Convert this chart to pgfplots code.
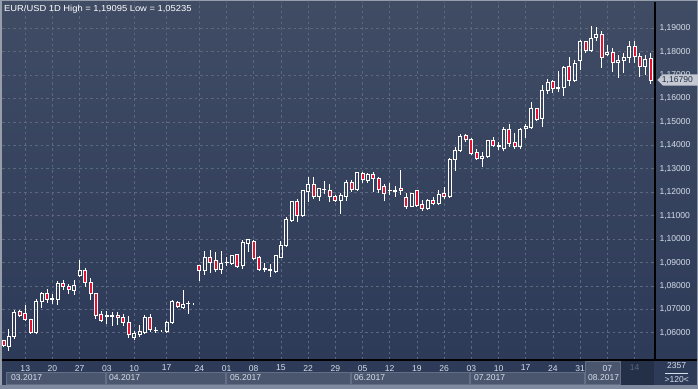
\documentclass[border=0pt]{standalone}
\usepackage{pgfplots}
\pgfplotsset{compat=1.18}
\usepackage{pgfplotstable}
\usepackage{fontspec}
\setmainfont{Liberation Sans}
\newfontfamily\titlefont[FakeStretch=1.08]{Liberation Sans}
\definecolor{bgtop}{RGB}{64,76,100}
\definecolor{bgbot}{RGB}{45,58,88}
\definecolor{gridc}{RGB}{92,104,130}
\definecolor{candred}{RGB}{226,18,48}
\definecolor{lbl}{RGB}{214,222,234}
\definecolor{framec}{RGB}{150,158,172}
\definecolor{framebot}{RGB}{128,138,158}
\definecolor{monthbox}{RGB}{74,86,110}
\definecolor{monthborder}{RGB}{98,110,134}
\definecolor{darkbox}{RGB}{36,48,72}
\definecolor{dimc}{RGB}{90,102,128}
\definecolor{markc}{RGB}{196,201,210}
\definecolor{marktext}{RGB}{36,48,74}

\pgfplotstableread{
i o h l c
0 1.05686 1.05714 1.05429 1.05457
1 1.05429 1.06186 1.05235 1.05857
2 1.05829 1.06957 1.05757 1.06857
3 1.06900 1.06957 1.06671 1.06729
4 1.06814 1.07171 1.06529 1.06557
5 1.06571 1.06600 1.05986 1.06029
6 1.06029 1.07429 1.06000 1.07329
7 1.07329 1.07743 1.07071 1.07686
8 1.07686 1.07857 1.07257 1.07429
9 1.07443 1.07671 1.07214 1.07471
10 1.07429 1.08214 1.07186 1.08100
11 1.08100 1.08257 1.07814 1.07971
12 1.07986 1.08100 1.07671 1.07857
13 1.07829 1.08243 1.07614 1.08014
14 1.08457 1.09100 1.08386 1.08671
15 1.08671 1.08757 1.07971 1.08143
16 1.08143 1.08329 1.07414 1.07671
17 1.07671 1.07714 1.06571 1.06757
18 1.06786 1.06929 1.06471 1.06543
19 1.06700 1.06929 1.06400 1.06743
20 1.06686 1.06900 1.06286 1.06743
21 1.06729 1.06900 1.06329 1.06643
22 1.06657 1.06786 1.06286 1.06429
23 1.06429 1.06700 1.05786 1.05929
24 1.05800 1.06071 1.05700 1.05957
25 1.05929 1.06329 1.05814 1.06043
26 1.06000 1.06757 1.05957 1.06643
27 1.06671 1.06786 1.06043 1.06129
28 1.06086 1.06257 1.06000 1.06114
29 1.06100 1.06114 1.06086 1.06100
30 1.06071 1.06500 1.06029 1.06429
31 1.06457 1.07400 1.06429 1.07329
32 1.07314 1.07357 1.07071 1.07114
33 1.07100 1.07829 1.07057 1.07214
34 1.07243 1.07357 1.06786 1.07257
35 1.07257 1.07271 1.07243 1.07257
36 1.08859 1.08880 1.08197 1.08662
37 1.08662 1.09507 1.08479 1.09225
38 1.09225 1.09535 1.08549 1.09014
39 1.09070 1.09465 1.08577 1.08690
40 1.08690 1.09493 1.08521 1.08972
41 1.08986 1.09254 1.08859 1.09014
42 1.08972 1.09338 1.08901 1.09310
43 1.09324 1.09352 1.08803 1.08831
44 1.08887 1.09958 1.08718 1.09845
45 1.09817 1.10000 1.09465 1.09986
46 1.09915 1.09958 1.09113 1.09183
47 1.09225 1.09296 1.08648 1.08718
48 1.08732 1.08972 1.08620 1.08704
49 1.08690 1.08930 1.08380 1.08676
50 1.08620 1.09310 1.08549 1.09310
51 1.09225 1.09930 1.09225 1.09732
52 1.09732 1.10944 1.09704 1.10831
53 1.10803 1.11648 1.10775 1.11606
54 1.11592 1.11732 1.10732 1.11000
55 1.11000 1.12099 1.10972 1.12070
56 1.12042 1.12662 1.11606 1.12352
57 1.12352 1.12662 1.11718 1.11817
58 1.11817 1.12155 1.11648 1.12155
59 1.12099 1.12493 1.11930 1.12127
60 1.12092 1.12333 1.11596 1.11809
61 1.11809 1.11879 1.11596 1.11638
62 1.11638 1.11979 1.11071 1.11879
63 1.11837 1.12518 1.11638 1.12418
64 1.12418 1.12518 1.12021 1.12120
65 1.12120 1.12872 1.12064 1.12830
66 1.12801 1.12872 1.12404 1.12546
67 1.12518 1.12830 1.12376 1.12773
68 1.12773 1.12872 1.12021 1.12589
69 1.12589 1.12631 1.11950 1.12120
70 1.12234 1.12348 1.11638 1.11950
71 1.12064 1.12376 1.11879 1.12078
72 1.12050 1.12262 1.11809 1.12092
73 1.12163 1.12943 1.11879 1.12078
74 1.11780 1.11950 1.11284 1.11383
75 1.11411 1.11979 1.11383 1.11950
76 1.12064 1.12092 1.11411 1.11454
77 1.11482 1.11667 1.11213 1.11312
78 1.11312 1.11695 1.11241 1.11667
79 1.11667 1.11780 1.11454 1.11525
80 1.11525 1.12092 1.11454 1.11922
81 1.11950 1.12206 1.11695 1.11809
82 1.11809 1.13482 1.11780 1.13411
83 1.13397 1.13936 1.12915 1.13794
84 1.13766 1.14504 1.13723 1.14390
85 1.14433 1.14504 1.14149 1.14248
86 1.14248 1.14333 1.13582 1.13652
87 1.13681 1.13865 1.13369 1.13440
88 1.13440 1.13723 1.13085 1.13511
89 1.13511 1.14248 1.13482 1.14220
90 1.14214 1.14357 1.13957 1.14000
91 1.14000 1.14143 1.13786 1.13971
92 1.13857 1.14786 1.13786 1.14671
93 1.14686 1.14900 1.13929 1.14100
94 1.14114 1.14543 1.13857 1.13971
95 1.13971 1.14757 1.13857 1.14686
96 1.14714 1.14929 1.14329 1.14814
97 1.14757 1.15857 1.14714 1.15571
98 1.15571 1.15614 1.15071 1.15114
99 1.15143 1.16571 1.14786 1.16357
100 1.16357 1.16814 1.16214 1.16686
101 1.16714 1.16814 1.16243 1.16429
102 1.16443 1.17171 1.16286 1.16471
103 1.16457 1.17400 1.16100 1.17329
104 1.17357 1.17757 1.16529 1.16786
105 1.16757 1.17643 1.16714 1.17500
106 1.17643 1.18500 1.17214 1.18429
107 1.18429 1.18471 1.17929 1.18071
108 1.18071 1.19095 1.18000 1.18571
109 1.18614 1.19043 1.18471 1.18743
110 1.18743 1.18900 1.17286 1.17757
111 1.17900 1.18286 1.17814 1.17957
112 1.17957 1.18143 1.17143 1.17557
113 1.17557 1.17857 1.16900 1.17643
114 1.17643 1.17957 1.17071 1.17757
115 1.17757 1.18471 1.17500 1.18214
116 1.18243 1.18471 1.17529 1.17814
117 1.17814 1.17957 1.16900 1.17386
118 1.17386 1.17857 1.17000 1.17671
119 1.17714 1.17957 1.16614 1.16790
}\candles

\newcommand{\lblfont}{\fontsize{8.6}{10}\selectfont}

\begin{document}
\begin{tikzpicture}[x=1bp,y=1bp]
% frame and backgrounds
\fill[framec] (0,0) rectangle (698,389);
\fill[framebot] (0,0) rectangle (698,4.5);
\fill[bgbot] (2,4.5) rectangle (697,29);
\shade[top color=bgtop, bottom color=bgbot] (2,29) rectangle (697,387);
% month boxes
\foreach \a/\b in {6/105,106/225,226/350,351/469,470/584}{
  \filldraw[fill=monthbox, draw=monthborder, line width=0.8bp] (\a,5) rectangle (\b,17);
}
\filldraw[fill=monthbox, draw=monthborder, line width=0.8bp] (585,5) rectangle (620,28);
\fill[darkbox] (621,4.5) rectangle (654,28);
% month labels
\foreach \xx/\t in {11/03.2017,109/04.2017,230/05.2017,354/06.2017,474/07.2017,588/08.2017}{
  \node[anchor=base west, inner sep=0, text=lbl, font=\lblfont] at (\xx,8.2) {\t};
}

% axis 1: grid, ticks, wicks
\begin{axis}[
  at={(2bp,29bp)}, anchor=south west, scale only axis,
  width=653bp, height=358bp,
  xmin=-0.276, xmax=119.76, ymin=1.04842, ymax=1.20121,
  axis line style={draw=none},
  tick style={draw=none}, major tick length=0pt,
  grid=major,
  grid style={gridc, dash pattern=on 2.5bp off 3bp, line width=0.8bp},
  xtick={4,9,14,19,24,30,36,41,46,51,56,61,66,71,76,81,86,91,96,101,106,111,116},
  xticklabels={13,20,27,03,10,17,24,01,08,15,22,29,05,12,19,26,03,10,17,24,31,07,{\textcolor{dimc}{14}}},
  xticklabel style={font=\lblfont, text=lbl, yshift=-1.5bp},
  ytick={1.06,1.07,1.08,1.09,1.10,1.11,1.12,1.13,1.14,1.15,1.16,1.17,1.18,1.19},
  yticklabel pos=right,
  scaled y ticks=false,
  yticklabel style={font=\lblfont, text=lbl, xshift=1bp,
    /pgf/number format/fixed, /pgf/number format/fixed zerofill,
    /pgf/number format/precision=5, /pgf/number format/use comma,
    /pgf/number format/1000 sep={}, /pgf/number format/assume math mode=true},
]
% upper wicks
\addplot[draw=none, mark=none, forget plot,
  error bars/.cd, y dir=both, y explicit, error mark=none,
  error bar style={draw=white, solid, line width=1bp}]
  table[x=i, y expr={(\thisrow{h}+max(\thisrow{o},\thisrow{c}))/2},
        y error expr={(\thisrow{h}-max(\thisrow{o},\thisrow{c}))/2}] {\candles};
% lower wicks
\addplot[draw=none, mark=none, forget plot,
  error bars/.cd, y dir=both, y explicit, error mark=none,
  error bar style={draw=white, solid, line width=1bp}]
  table[x=i, y expr={(\thisrow{l}+min(\thisrow{o},\thisrow{c}))/2},
        y error expr={(min(\thisrow{o},\thisrow{c})-\thisrow{l})/2}] {\candles};
\coordinate (pm) at (axis cs:119.76,1.1679);
\end{axis}

% axis 2: candle bodies
\begin{axis}[
  at={(2bp,29bp)}, anchor=south west, scale only axis,
  width=653bp, height=358bp,
  xmin=-0.276, xmax=119.76, ymin=1.04842, ymax=1.20121,
  hide axis,
  ybar stacked, bar width=3bp,
]
\addplot[draw=none, fill=none] table[x=i, y expr={min(\thisrow{o},\thisrow{c})}] {\candles};
\addplot[draw=white, fill=candred, line width=1bp]
  table[x=i, y expr={\thisrow{o}>\thisrow{c} ? \thisrow{o}-\thisrow{c} : 0}] {\candles};
\addplot[draw=white, fill=none, line width=1bp]
  table[x=i, y expr={\thisrow{c}>=\thisrow{o} ? \thisrow{c}-\thisrow{o} : 0}] {\candles};
\end{axis}

% separator lines
\draw[black, line width=1.2bp] (2,29) -- (697,29);
\draw[black, line width=1.2bp] (655,29) -- (655,387);

% current price marker
\path (pm); \pgfgetlastxy{\pmx}{\pmy}
\fill[markc] (\pmx+2.3bp,\pmy) -- (\pmx+8bp,\pmy+5.7bp) -- (698bp,\pmy+5.7bp) -- (698bp,\pmy-5.7bp) -- (\pmx+8bp,\pmy-5.7bp) -- cycle;
\node[font=\lblfont, text=marktext, inner sep=0, anchor=west] at (\pmx+6.7bp,\pmy) {1,16790};

% bottom right panel
\node[font=\lblfont, text=lbl] at (676.7,23) {2357};
\draw[lbl, line width=0.6bp] (665,15.7) -- (688,15.7);
\node[font=\lblfont, text=lbl] at (676.7,9) {>120<};

% title
\node[anchor=base west, inner sep=0, text=white, font=\titlefont\fontsize{8.7}{10}\selectfont] at (4,378) {EUR/USD 1D High = 1,19095 Low = 1,05235};
\end{tikzpicture}
\end{document}
